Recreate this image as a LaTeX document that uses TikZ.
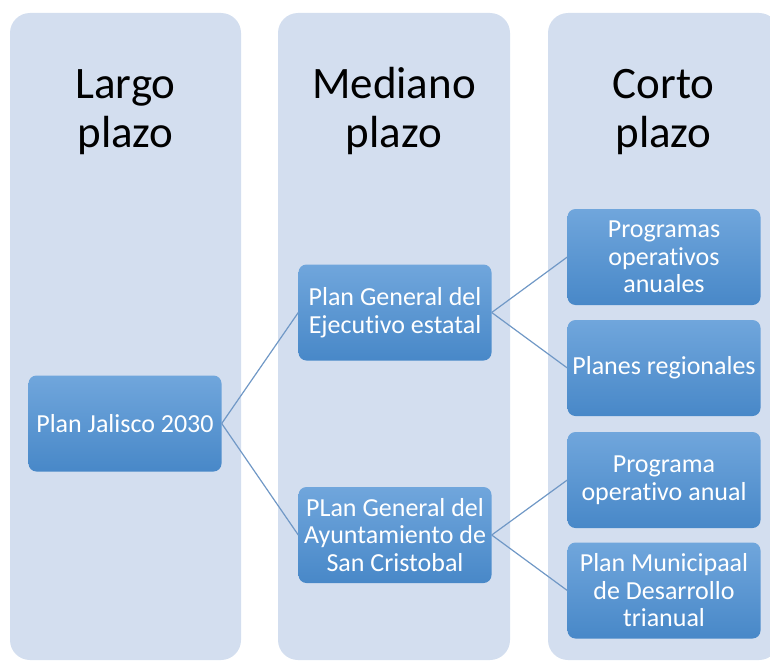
\documentclass[tikz,border=0pt]{standalone}
\usepackage{fontspec}
\setmainfont{Carlito}[Ligatures=NoCommon]
\usetikzlibrary{positioning}

\definecolor{fondo}{RGB}{211,222,239}
\definecolor{cajaarriba}{RGB}{112,166,220}
\definecolor{cajaabajo}{RGB}{72,136,200}
\definecolor{linea}{RGB}{112,152,198}

\tikzset{
  columna/.style={fill=fondo, rounded corners=20pt},
  titulo/.style={align=center, anchor=base, text=black,
    font=\fontsize{45}{49}\selectfont},
  caja/.style={rounded corners=8pt, top color=cajaarriba, bottom color=cajaabajo,
    draw=none, minimum width=193pt, minimum height=96pt, inner sep=0pt,
    align=center, text=white, font=\fontsize{26}{27.5}\selectfont},
  enlace/.style={draw=linea, line width=1.2pt}
}

\begin{document}
\begin{tikzpicture}[x=1pt,y=-1pt]
    \useasboundingbox (0,0) rectangle (770,661);

    % columnas de fondo
    \fill[columna] (10,13) rectangle (241,660);
    \fill[columna] (278,13) rectangle (510,660);
    \fill[columna] (548,13) rectangle (779,660);

    % titulos
    \node[titulo] (largo) at (125.5,147) {Largo\\plazo};
    \node[titulo] (mediano) at (394,147) {Mediano\\plazo};
    \node[titulo] (corto) at (663.5,147) {Corto\\plazo};

    % planes
    \node[caja] (jalisco) at (125,423.5) {Plan Jalisco 2030};
    \node[caja] (ejecutivo) at (395,312.5) {Plan General del\\Ejecutivo estatal};
    \node[caja] (ayuntamiento) at (395,535) {PLan General del\\Ayuntamiento de\\San Cristobal};

    \node[caja] (programas) at (664,257) {Programas\\operativos\\anuales};
    \node[caja] (regionales) at (664,368) {Planes regionales};
    \node[caja] (programa) at (664,480) {Programa\\operativo anual};
    \node[caja] (municipal) at (664,590.5) {Plan Municipaal\\de Desarrollo\\trianual};

    % conexiones
    \draw[enlace] (jalisco.east) -- (ejecutivo.west);
    \draw[enlace] (jalisco.east) -- (ayuntamiento.west);
    \draw[enlace] (ejecutivo.east) -- (programas.west);
    \draw[enlace] (ejecutivo.east) -- (regionales.west);
    \draw[enlace] (ayuntamiento.east) -- (programa.west);
    \draw[enlace] (ayuntamiento.east) -- (municipal.west);

\end{tikzpicture}
\end{document}
